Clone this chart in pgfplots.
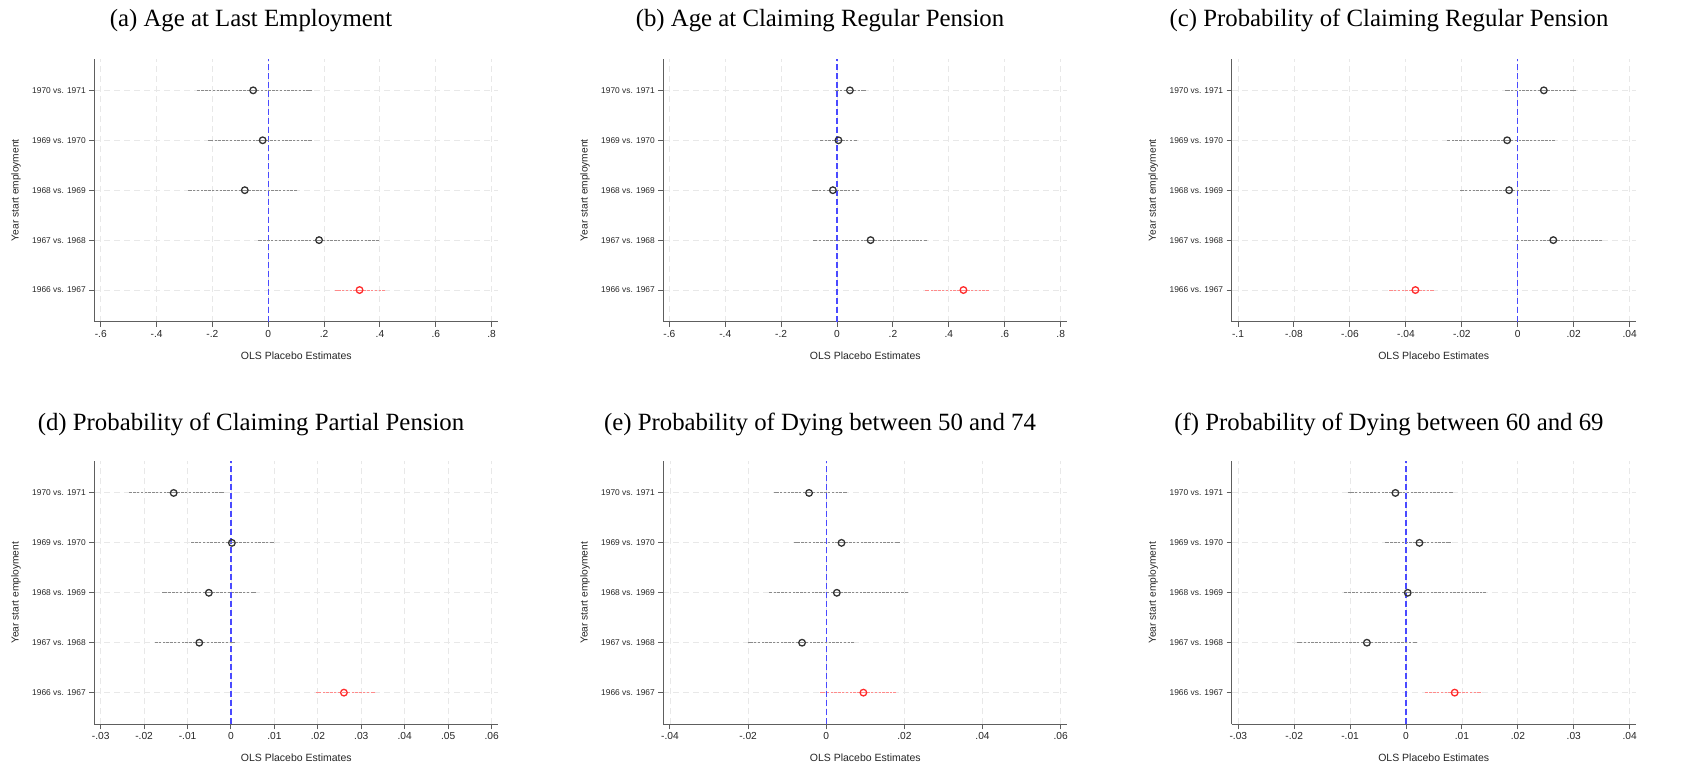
\documentclass[border=0pt]{standalone}
\usepackage{pgfplots}
\pgfplotsset{compat=1.18}
\usepackage{fontspec}
\setmainfont{Liberation Sans}
\newfontfamily\titlefont{Liberation Serif}
\definecolor{axisgray}{HTML}{5E5E5E}
\definecolor{gridgray}{HTML}{E8E8E8}
\definecolor{cigray}{HTML}{8A8A8A}
\definecolor{mkgray}{HTML}{333333}
\definecolor{zeroblue}{HTML}{4A4AFF}
\definecolor{cired}{HTML}{FF8A8A}
\definecolor{mkred}{HTML}{FF2A2A}
\pgfplotsset{
  stata/.style={
    scale only axis, width=404pt, height=263pt, anchor=south west,
    axis x line*=bottom, axis y line*=left,
    axis line style={draw=axisgray, line width=1.4pt},
    tick align=outside, major tick length=5pt,
    tick style={draw=axisgray, line width=1pt},
    ymin=0.366, ymax=5.634,
    ytick={1,2,3,4,5},
    yticklabels={1966 vs. 1967,1967 vs. 1968,1968 vs. 1969,1969 vs. 1970,1970 vs. 1971},
    yticklabel style={font=\fontsize{8.4}{10}\selectfont, text=black!85},
    xticklabel style={font=\fontsize{10.2}{12}\selectfont, text=black!85},
    scaled x ticks=false,
    /pgf/number format/assume math mode=true,
    grid=major,
    major grid style={draw=gridgray, line width=0.9pt, dash pattern=on 6pt off 4pt},
    xlabel={OLS Placebo Estimates}, ylabel={Year start employment},
    xlabel style={at={(axis description cs:0.5,-0.129)}, anchor=center, font=\fontsize{10.5}{12}\selectfont, text=black!85},
    ylabel style={at={(axis description cs:-0.194,0.5)}, anchor=center, font=\fontsize{10.2}{12}\selectfont, text=black!85},
    clip=false,
  },
  cigr/.style={only marks, mark=o, mark size=3.3pt,
    mark options={draw=mkgray, fill=white, line width=1.3pt, solid},
    error bars/.cd, x dir=both, x explicit,
    error bar style={draw=cigray, line width=1pt, dash pattern=on 2.4pt off 1.4pt},
    error mark options={draw=cigray, mark size=1.6pt, solid, line width=1pt}},
  cire/.style={only marks, mark=o, mark size=3.3pt,
    mark options={draw=mkred, fill=white, line width=1.3pt, solid},
    error bars/.cd, x dir=both, x explicit,
    error bar style={draw=cired, line width=1pt, dash pattern=on 2.4pt off 1.4pt},
    error mark options={draw=cired, mark size=1.6pt, solid, line width=1pt}},
  zero/.style={draw=zeroblue, line width=1.3pt, dash pattern=on 6pt off 3pt, no marks},
  /pgfplots/table/ci/.style={x=est, y=row, x error plus expr=\thisrow{hi}-\thisrow{est}, x error minus expr=\thisrow{est}-\thisrow{lo}},
}
\begin{document}
\begin{tikzpicture}
\path[use as bounding box] (0,0) rectangle (1681pt,767pt);
% titles
\node[anchor=base, font=\titlefont\fontsize{24.8}{28}\selectfont] at (251pt,740pt) {(a) Age at Last Employment};
\node[anchor=base, font=\titlefont\fontsize{24.8}{28}\selectfont] at (820pt,740pt) {(b) Age at Claiming Regular Pension};
\node[anchor=base, font=\titlefont\fontsize{24.8}{28}\selectfont] at (1389pt,740pt) {(c) Probability of Claiming Regular Pension};
\node[anchor=base, font=\titlefont\fontsize{24.8}{28}\selectfont] at (251pt,336pt) {(d) Probability of Claiming Partial Pension};
\node[anchor=base, font=\titlefont\fontsize{24.8}{28}\selectfont] at (820pt,336pt) {(e) Probability of Dying between 50 and 74};
\node[anchor=base, font=\titlefont\fontsize{24.8}{28}\selectfont] at (1389pt,336pt) {(f) Probability of Dying between 60 and 69};

% (a)
\begin{axis}[stata, at={(94.3pt,445.3pt)}, xmin=-0.623, xmax=0.824,
  xtick={-0.6,-0.4,-0.2,0,0.2,0.4,0.6,0.8}, xticklabels={-.6,-.4,-.2,0,.2,.4,.6,.8}]
\addplot[zero] coordinates {(0,0.366) (0,5.634)};
\addplot[cigr] table[ci] {
row est lo hi
5 -0.054 -0.250 0.152
4 -0.020 -0.210 0.150
3 -0.084 -0.280 0.098
2 0.182 -0.030 0.390
};
\addplot[cire] table[ci] {
row est lo hi
1 0.327 0.244 0.413
};
\end{axis}

% (b)
\begin{axis}[stata, at={(663.3pt,445.3pt)}, xmin=-0.6215, xmax=0.8236,
  xtick={-0.6,-0.4,-0.2,0,0.2,0.4,0.6,0.8}, xticklabels={-.6,-.4,-.2,0,.2,.4,.6,.8}]
\addplot[zero] coordinates {(0,0.366) (0,5.634)};
\addplot[cigr] table[ci] {
row est lo hi
5 0.046 0.000 0.097
4 0.005 -0.057 0.067
3 -0.015 -0.085 0.074
2 0.120 -0.081 0.317
};
\addplot[cire] table[ci] {
row est lo hi
1 0.452 0.321 0.539
};
\end{axis}

% (c)
\begin{axis}[stata, at={(1231.7pt,445.3pt)}, xmin=-0.10226, xmax=0.04215,
  xtick={-0.1,-0.08,-0.06,-0.04,-0.02,0,0.02,0.04}, xticklabels={-.1,-.08,-.06,-.04,-.02,0,.02,.04}]
\addplot[zero] coordinates {(0,0.366) (0,5.634)};
\addplot[cigr] table[ci] {
row est lo hi
5 0.0093 -0.0040 0.0203
4 -0.0038 -0.0247 0.0127
3 -0.0031 -0.0202 0.0111
2 0.0127 -0.0002 0.0296
};
\addplot[cire] table[ci] {
row est lo hi
1 -0.0366 -0.0453 -0.0307
};
\end{axis}

% (d)
\begin{axis}[stata, at={(94.3pt,42.7pt)}, xmin=-0.03147, xmax=0.06154,
  xtick={-0.03,-0.02,-0.01,0,0.01,0.02,0.03,0.04,0.05,0.06}, xticklabels={-.03,-.02,-.01,0,.01,.02,.03,.04,.05,.06}]
\addplot[zero] coordinates {(0,0.366) (0,5.634)};
\addplot[cigr] table[ci] {
row est lo hi
5 -0.0132 -0.0231 -0.0020
4 0.0002 -0.0088 0.0095
3 -0.0051 -0.0155 0.0053
2 -0.0073 -0.0171 0.0005
};
\addplot[cire] table[ci] {
row est lo hi
1 0.0260 0.0200 0.0329
};
\end{axis}

% (e)
\begin{axis}[stata, at={(663.3pt,42.7pt)}, xmin=-0.04171, xmax=0.06169,
  xtick={-0.04,-0.02,0,0.02,0.04,0.06}, xticklabels={-.04,-.02,0,.02,.04,.06}]
\addplot[zero] coordinates {(0,0.366) (0,5.634)};
\addplot[cigr] table[ci] {
row est lo hi
5 -0.0044 -0.0130 0.0048
4 0.0039 -0.0078 0.0185
3 0.0027 -0.0142 0.0206
2 -0.0062 -0.0196 0.0068
};
\addplot[cire] table[ci] {
row est lo hi
1 0.0095 -0.0013 0.0174
};
\end{axis}

% (f)
\begin{axis}[stata, at={(1231.7pt,42.7pt)}, xmin=-0.03118, xmax=0.04108,
  xtick={-0.03,-0.02,-0.01,0,0.01,0.02,0.03,0.04}, xticklabels={-.03,-.02,-.01,0,.01,.02,.03,.04}]
\addplot[zero] coordinates {(0,0.366) (0,5.634)};
\addplot[cigr] table[ci] {
row est lo hi
5 -0.0019 -0.0101 0.0081
4 0.0024 -0.0035 0.0077
3 0.0003 -0.0108 0.0140
2 -0.0070 -0.0193 0.0016
};
\addplot[cire] table[ci] {
row est lo hi
1 0.0087 0.0037 0.0132
};
\end{axis}
\end{tikzpicture}
\end{document}
